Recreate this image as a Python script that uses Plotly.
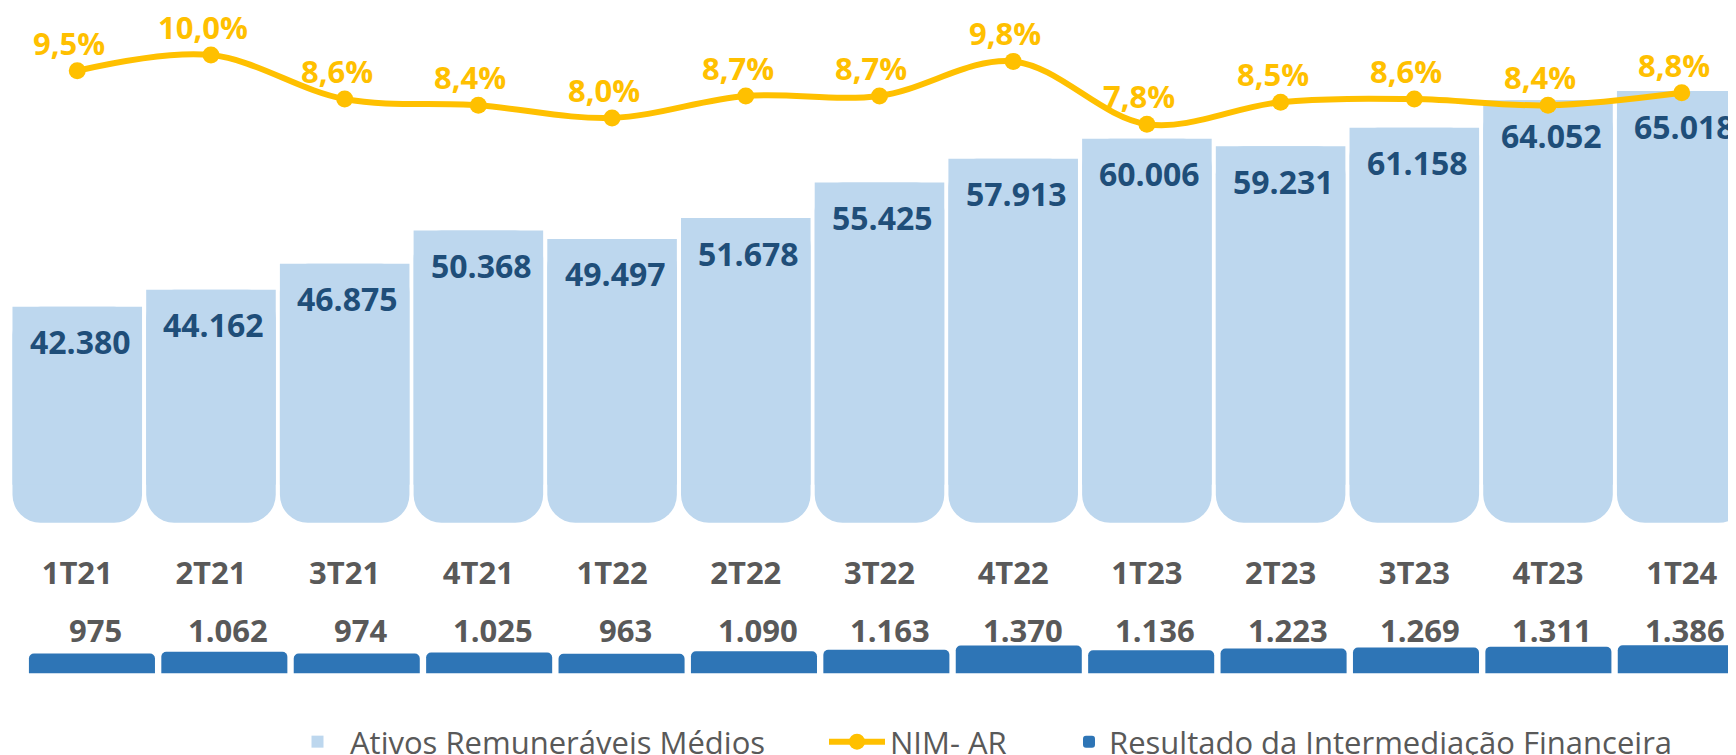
import plotly.graph_objects as go

# ---- data ----
quarters = ['1T21', '2T21', '3T21', '4T21', '1T22', '2T22', '3T22', '4T22',
            '1T23', '2T23', '3T23', '4T23', '1T24']
ativos = [42380, 44162, 46875, 50368, 49497, 51678, 55425, 57913,
          60006, 59231, 61158, 64052, 65018]
nim = [9.5, 10.0, 8.6, 8.4, 8.0, 8.7, 8.7, 9.8, 7.8, 8.5, 8.6, 8.4, 8.8]
resultado = [975, 1062, 974, 1025, 963, 1090, 1163, 1370, 1136, 1223, 1269, 1311, 1386]

# ---- styling constants ----
# the page body keeps its default 8px margin, so the figure is 8px smaller
W, H = 1728, 747
FONT = "Open Sans"
C_LIGHT = "#BDD7EE"
C_DARK = "#2E75B6"
C_YEL = "#FFC000"
C_LBL = "#1F4E79"
C_GRAY = "#595959"
AXIS_FLOOR = 19700   # value axis minimum of the main bars
ROUND_ZONE = 4000    # height (in axis units) of the rounded bottom zone


def fmt_int(v):
    return f"{v:,}".replace(",", ".")


def fmt_pct(v):
    return f"{v:.1f}%".replace(".", ",")


fig = go.Figure()

# rounded bottom part of the main bars (full bar, drawn first)
fig.add_trace(go.Bar(
    x=quarters, y=[AXIS_FLOOR - v for v in ativos], base=ativos,
    width=0.969, marker=dict(color=C_LIGHT, line=dict(width=0), cornerradius=28),
    name="Ativos Remuneráveis Médios", xaxis="x", yaxis="y",
    showlegend=False, hoverinfo="skip",
))
# square-topped main bars
fig.add_trace(go.Bar(
    x=quarters, y=[AXIS_FLOOR + ROUND_ZONE - v for v in ativos], base=ativos,
    width=0.969, marker=dict(color=C_LIGHT, line=dict(width=0), cornerradius=0),
    name="Ativos Remuneráveis Médios", xaxis="x", yaxis="y",
    legend="legend", hoverinfo="skip",
))

# NIM line
fig.add_trace(go.Scatter(
    x=quarters, y=nim, mode="lines+markers",
    line=dict(color=C_YEL, width=6, shape="spline", smoothing=1.0),
    marker=dict(color=C_YEL, size=17),
    name="NIM- AR", xaxis="x", yaxis="y2", legend="legend2", hoverinfo="skip",
))

# small result bars
fig.add_trace(go.Bar(
    x=quarters, y=resultado, width=0.952,
    marker=dict(color=C_DARK, line=dict(width=0), cornerradius=5),
    name="Resultado da Intermediação Financeira", xaxis="x2", yaxis="y3",
    legend="legend3", hoverinfo="skip",
))

annotations = []
for q, v in zip(quarters, ativos):
    annotations.append(dict(
        x=q, y=v, xref="x", yref="y", text=fmt_int(v), showarrow=False,
        yanchor="middle", xanchor="center", yshift=-35, xshift=3,
        font=dict(family=FONT, size=32, color=C_LBL, weight="bold"),
    ))
for q, v in zip(quarters, nim):
    annotations.append(dict(
        x=q, y=v, xref="x", yref="y2", text=fmt_pct(v), showarrow=False,
        yanchor="middle", xanchor="center", yshift=28, xshift=-8,
        font=dict(family=FONT, size=31, color=C_YEL, weight="bold"),
    ))
for q, v in zip(quarters, resultado):
    annotations.append(dict(
        x=q, y=(H - 622) / H, xref="x2", yref="paper", text=fmt_int(v),
        showarrow=False, yanchor="middle", xanchor="center", xshift=4,
        font=dict(family=FONT, size=31, color=C_GRAY, weight="bold"),
    ))

hidden = dict(showgrid=False, zeroline=False, showticklabels=False,
              showline=False, ticks="")

legend_common = dict(
    orientation="h", yanchor="middle", y=(H - 734) / H, xanchor="left",
    font=dict(family=FONT, size=31, color=C_GRAY),
    bgcolor="rgba(0,0,0,0)", borderwidth=0,
)

fig.update_layout(
    width=W, height=H,
    margin=dict(l=0, r=0, t=0, b=0, autoexpand=False),
    paper_bgcolor="white", plot_bgcolor="white",
    barmode="overlay",
    xaxis=dict(domain=[0, 1], range=[-0.518, 12.406], type="category",
               anchor="free", position=(H - 544) / H, automargin=False,
               showgrid=False, zeroline=False, showline=False, ticks="",
               tickfont=dict(family=FONT, size=31, color=C_GRAY, weight="bold")),
    xaxis2=dict(domain=[0, 1], range=[-0.634, 12.417], type="category",
                overlaying="x", anchor="y3", **hidden),
    yaxis=dict(domain=[0, 1], range=[-4671, 73730], **hidden),
    yaxis2=dict(range=[-12.29, 11.50], overlaying="y", anchor="x", **hidden),
    yaxis3=dict(range=[-4035, 32854], overlaying="y", anchor="x2", **hidden),
    legend=dict(x=277 / W, itemwidth=55, **legend_common),
    legend2=dict(x=816 / W, itemwidth=56, **legend_common),
    legend3=dict(x=1061 / W, itemwidth=30, **legend_common),
    annotations=annotations,
    showlegend=True,
)

fig.write_html("out.html")
